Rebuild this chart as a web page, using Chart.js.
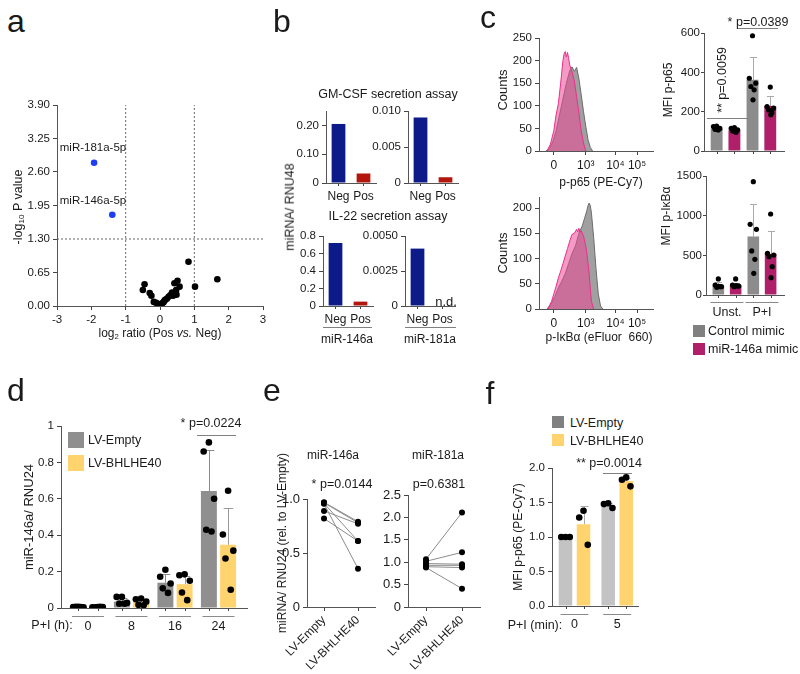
<!DOCTYPE html>
<html>
<head>
<meta charset="utf-8">
<title>Figure</title>
<script src="https://cdn.jsdelivr.net/npm/chart.js@4.4.1/dist/chart.umd.min.js"></script>
<style>
  body { margin:0; width:800px; height:674px; position:relative; background:#fff; overflow:hidden;
         font-family:'Liberation Sans', Arial, Helvetica, sans-serif; color:#1a1a1a; }
  canvas { position:absolute; }
  .t { position:absolute; white-space:nowrap; line-height:1; }
  .ln { position:absolute; height:0; border-top:1px solid #808080; }
  .sq { position:absolute; }
  sub { font-size:65%; vertical-align:-2px; line-height:0; }
</style>
</head>
<body>
<script>
// ---------- data ----------
// a: volcano
const volX = [0.83, 1.67, 1.02, -0.45, -0.50, -0.30, -0.25, -0.18, -0.11, -0.01, 0.06, 0.13, 0.20, 0.25,
              0.30, 0.35, 0.44, 0.47, 0.42, 0.51, 0.57, 0.02, -0.05, 0.10, 0.38, 0.48, 0.15];
const volY = [0.86, 0.52, 0.375, 0.42, 0.31, 0.25, 0.20, 0.08, 0.06, 0.02, 0.05, 0.10, 0.14, 0.18,
              0.21, 0.26, 0.25, 0.31, 0.44, 0.49, 0.375, 0.01, 0.04, 0.07, 0.20, 0.22, 0.12];
const hitX = [-1.92, -1.39];
const hitY = [2.78, 1.77];
const hitNames = ['miR-181a-5p', 'miR-146a-5p'];
const volYTicks = [0, 0.65, 1.30, 1.95, 2.60, 3.25, 3.90];
const foldCut = [-1, 1];
const pCut = 1.30;

// b: secretion assays
const negPos = ['Neg', 'Pos'];
const gmcsf146 = [0.205, 0.033];
const gmcsf181 = [0.0091, 0.0008];
const il22_146 = [0.72, 0.05];
const il22_181 = [0.0041, null]; // n.d.

// c: histograms (x in axis units 0-100)
const facsTicks = [13, 41, 67, 86];
const facsLabels = ['0', '10³', '10⁴', '10⁵'];
const p65CtrlX = [6, 9, 12, 15, 18, 21, 24, 27, 29, 31, 33, 35, 37, 39, 41, 43, 45, 47];
const p65CtrlN = [0, 5, 20, 45, 80, 115, 150, 178, 186, 176, 185, 160, 125, 88, 55, 25, 8, 0];
const p65MimX = [7, 10, 13, 15, 17, 19, 21, 22, 23, 24, 25, 26, 27, 29, 31, 33, 35, 37, 39, 41];
const p65MimN = [0, 15, 45, 80, 105, 150, 200, 215, 220, 208, 218, 205, 190, 175, 155, 120, 85, 45, 18, 0];
const ikbCtrlX = [7, 11, 14, 17, 20, 23, 26, 29, 32, 35, 38, 40, 42, 43, 44, 45, 46, 48, 50, 52, 54, 56];
const ikbCtrlN = [0, 12, 25, 42, 55, 70, 90, 110, 125, 150, 165, 180, 195, 205, 210, 205, 190, 140, 80, 30, 6, 0];
const ikbMimX = [8, 11, 13, 15, 17, 19, 21, 23, 25, 27, 29, 31, 33, 34, 35, 36, 37, 39, 41, 42, 44, 45, 46, 48];
const ikbMimN = [0, 15, 30, 45, 62, 75, 90, 105, 120, 135, 148, 150, 158, 153, 160, 152, 155, 145, 125, 110, 70, 40, 15, 0];

// c: MFI bars
const stim = ['Unst.', 'P+I'];
const p65Ctrl = [113, 362], p65CtrlSd = [8, 114];
const p65Mimic = [105, 229], p65MimicSd = [7, 53];
const p65CtrlPts = [[127, 124, 115, 110, 107, 110], [586, 370, 345, 328, 311, 260]];
const p65MimicPts = [[119, 115, 107, 102, 95, 99], [325, 226, 218, 209, 195, 184]];
const ikbCtrl = [118, 738], ikbCtrlSd = [50, 410];
const ikbMimic = [120, 518], ikbMimicSd = [30, 289];
const ikbCtrlPts = [[202, 126, 105, 97, 105, 110], [1429, 891, 828, 555, 450, 273]];
const ikbMimicPts = [[202, 126, 113, 105, 113, 120], [1021, 525, 504, 483, 357, 218]];

// d: miR-146a time course
const dHours = ['0', '8', '16', '24'];
const dEmpty = [0.005, 0.035, 0.139, 0.643], dEmptySd = [0.002, 0.018, 0.05, 0.227];
const dBhl = [0.004, 0.035, 0.131, 0.347], dBhlSd = [0.002, 0.016, 0.045, 0.20];
const dEmptyPts = [[0.006, 0.005, 0.004, 0.006, 0.005], [0.061, 0.061, 0.028, 0.024, 0.024],
                   [0.21, 0.172, 0.135, 0.108, 0.083], [0.91, 0.86, 0.60, 0.43, 0.42]];
const dBhlPts = [[0.005, 0.004, 0.005, 0.004, 0.006], [0.052, 0.048, 0.035, 0.017, 0.015],
                 [0.185, 0.18, 0.15, 0.085, 0.043], [0.644, 0.404, 0.315, 0.272, 0.10]];

// e: paired
const eLabels = ['LV-Empty', 'LV-BHLHE40'];
const e146Empty = [0.97, 0.965, 0.96, 0.955, 0.89, 0.82];
const e146Bhl = [0.79, 0.78, 0.61, 0.355, 0.77, 0.61];
const e181Empty = [1.067, 1.02, 0.97, 0.93, 0.90, 0.88];
const e181Bhl = [2.11, 1.22, 0.955, 0.93, 0.88, 0.41];

// f: MFI p-p65
const fMin = ['0', '5'];
const fEmpty = [1.0, 1.463], fEmptySd = [0.005, 0.03];
const fBhl = [1.183, 1.81], fBhlSd = [0.26, 0.05];
const fEmptyPts = [[1.0, 1.0, 1.0], [1.49, 1.477, 1.42]];
const fBhlPts = [[1.38, 1.283, 0.886], [1.864, 1.83, 1.734]];

// ---------- helpers ----------
Chart.defaults.font.family = "'Liberation Sans', Arial, Helvetica, sans-serif";
Chart.defaults.font.size = 11.5;
Chart.defaults.color = '#1a1a1a';

const PT = 12, PR = 12;
const GREY = '#8f8f8f', YEL = '#ffd36e', PINK = '#b0206a';

function mk(box, yw, xh, cfg, plugins) {
  const [x0, y0, x1, y1] = box;
  const cv = document.createElement('canvas');
  cv.width = Math.round(x1 - x0 + yw + PR);
  cv.height = Math.round(y1 - y0 + PT + xh);
  cv.style.left = (x0 - yw) + 'px';
  cv.style.top = (y0 - PT) + 'px';
  document.body.appendChild(cv);
  const o = cfg.options;
  o.responsive = false;
  o.animation = false;
  o.devicePixelRatio = 1;
  o.layout = {padding: {top: PT, right: PR, left: 0, bottom: 0}};
  o.plugins = Object.assign({legend: {display: false}, tooltip: {enabled: false}}, o.plugins || {});
  o.scales.x.afterFit = s => { s.height = xh; };
  o.scales.y.afterFit = s => { s.width = yw; };
  cfg.plugins = plugins || [];
  return new Chart(cv, cfg);
}

function ax(extra) {
  const s = {
    grid: {display: true, drawOnChartArea: false, drawTicks: true, tickLength: 4, color: '#444', lineWidth: 1},
    border: {display: true, color: '#555', width: 1},
    ticks: {color: '#1a1a1a', padding: 3}
  };
  for (const k in extra) {
    const v = extra[k];
    if (s[k] && v && typeof v === 'object' && !Array.isArray(v)) Object.assign(s[k], v);
    else s[k] = v;
  }
  return s;
}
function fixTicks(arr) { return s => { s.ticks = arr.map(v => ({value: v})); }; }

function txt(html, x, y, o = {}) {
  const d = document.createElement('div');
  d.className = 't';
  d.innerHTML = html;
  d.style.left = x + 'px';
  d.style.top = y + 'px';
  d.style.fontSize = (o.size || 12.5) + 'px';
  if (o.left) d.style.transform = 'translate(0,-50%)';
  else d.style.transform = 'translate(-50%,-50%)' + (o.rot ? ' rotate(-90deg)' : '');
  document.body.appendChild(d);
}
function letter(ch, cx, base) { txt(ch, cx, base - 11, {size: 32}); }
function hline(x0, x1, y, c) {
  const d = document.createElement('div');
  d.className = 'ln';
  d.style.left = x0 + 'px'; d.style.top = y + 'px'; d.style.width = (x1 - x0) + 'px';
  if (c) d.style.borderTopColor = c;
  document.body.appendChild(d);
}
function sq(x, y, s, c) {
  const d = document.createElement('div');
  d.className = 'sq';
  d.style.left = x + 'px'; d.style.top = y + 'px'; d.style.width = s + 'px'; d.style.height = s + 'px';
  d.style.background = c;
  document.body.appendChild(d);
}

// error bars (upward only), drawn under the bars/dots
function errBars(list) {
  return {id: 'errbars', beforeDatasetsDraw(chart) {
    const ctx = chart.ctx, ys = chart.scales.y;
    ctx.save();
    ctx.lineWidth = 1;
    list.forEach(e => {
      const meta = chart.getDatasetMeta(e.ds);
      meta.data.forEach((el, i) => {
        const v = chart.data.datasets[e.ds].data[i].y;
        if (v == null || e.sd[i] == null) return;
        const top = ys.getPixelForValue(v + e.sd[i]);
        const x = Math.round(el.x) + 0.5, t = Math.round(top) + 0.5;
        ctx.strokeStyle = e.color;
        ctx.beginPath();
        ctx.moveTo(x, el.y); ctx.lineTo(x, t);
        ctx.moveTo(x - el.width * 0.3, t); ctx.lineTo(x + el.width * 0.3, t);
        ctx.stroke();
      });
    });
    ctx.restore();
  }};
}
// small ticks under each bar centre
const barTicks = {id: 'barticks', afterDraw(chart) {
  const ctx = chart.ctx, b = chart.chartArea.bottom;
  ctx.save();
  ctx.strokeStyle = '#444';
  ctx.lineWidth = 1;
  chart.data.datasets.forEach((d, k) => {
    if (d.type !== 'bar') return;
    chart.getDatasetMeta(k).data.forEach(el => {
      const x = Math.round(el.x) + 0.5;
      ctx.beginPath(); ctx.moveTo(x, b); ctx.lineTo(x, b + 3); ctx.stroke();
    });
  });
  ctx.restore();
}};
// grey line under each group
function groupLines(n, half, dy) {
  return {id: 'grouplines', afterDraw(chart) {
    if (!half) return;
    const ctx = chart.ctx, xs = chart.scales.x, y = Math.round(chart.chartArea.bottom + dy) + 0.5;
    ctx.save();
    ctx.strokeStyle = '#8a8a8a';
    ctx.lineWidth = 1;
    for (let i = 0; i < n; i++) {
      const c = xs.getPixelForValue(i);
      ctx.beginPath(); ctx.moveTo(c - half, y); ctx.lineTo(c + half, y); ctx.stroke();
    }
    ctx.restore();
  }};
}

const jit = [0, -1, 1, -0.5, 0.5, 0.15];
function dotData(groups, side, off, spread) {
  const out = [];
  groups.forEach((vals, i) => vals.forEach((v, j) => out.push({x: i + side * off + jit[j % jit.length] * spread, y: v})));
  return out;
}

function barChart(box, yw, xh, o) {
  const ds = [], errs = [];
  o.series.forEach((s, k) => {
    ds.push({type: 'bar', data: s.vals.map((v, i) => ({x: i, y: v})), backgroundColor: s.color, borderWidth: 0,
      categoryPercentage: o.cp, barPercentage: o.bp, order: 2});
    errs.push({ds: k, sd: s.sd, color: s.err || '#999'});
  });
  o.series.forEach((s, k) => {
    ds.push({type: 'scatter', data: dotData(s.pts, k ? 1 : -1, o.cp / 4, o.spread), pointRadius: o.r,
      pointBackgroundColor: '#000', pointBorderWidth: 0, order: 0});
  });
  return mk(box, yw, xh, {type: 'bar', data: {datasets: ds}, options: {scales: {
    x: ax({type: 'linear', min: o.xmin, max: o.xmax, offset: false, grid: {offset: false, drawTicks: false},
      afterBuildTicks: fixTicks(o.groups.map((_, i) => i)),
      ticks: {display: o.showLabels, padding: o.lpad || 11, font: {size: 12.5}, callback: (v, i) => o.groups[i]}}),
    y: ax({min: 0, max: o.ymax, afterBuildTicks: fixTicks(o.yticks), grid: {tickLength: o.tl || 4},
      ticks: {padding: o.ypad == null ? 3 : o.ypad, callback: o.yfmt || (v => String(v))}})
  }}}, [errBars(errs), barTicks, groupLines(o.groups.length, o.half, o.dy)]);
}

// ---------- a ----------
const dash = {showLine: true, pointRadius: 0, borderColor: '#666', borderWidth: 1, borderDash: [2, 2]};
mk([57, 105, 263, 306], 40, 22, {type: 'scatter', data: {datasets: [
  {data: volX.map((x, i) => ({x, y: volY[i]})), pointRadius: 3.3, pointBackgroundColor: '#000', pointBorderWidth: 0},
  {data: hitX.map((x, i) => ({x, y: hitY[i]})), pointRadius: 3.3, pointBackgroundColor: '#1f3df5', pointBorderWidth: 0},
  Object.assign({data: [{x: foldCut[0], y: 0}, {x: foldCut[0], y: 3.9}]}, dash),
  Object.assign({data: [{x: foldCut[1], y: 0}, {x: foldCut[1], y: 3.9}]}, dash),
  Object.assign({data: [{x: -3, y: pCut}, {x: 3, y: pCut}]}, dash)
]}, options: {scales: {
  x: ax({type: 'linear', min: -3, max: 3, ticks: {stepSize: 1}}),
  y: ax({min: 0, max: 3.9, afterBuildTicks: fixTicks(volYTicks), ticks: {callback: v => v.toFixed(2)}})
}}});
txt('-log<sub>10</sub> P value', 18, 207, {rot: true});
txt('log<sub>2</sub> ratio (Pos <i>vs.</i> Neg)', 160, 333, {size: 12});
txt(hitNames[0], 93, 148, {size: 11.5});
txt(hitNames[1], 93, 201, {size: 11.5});

// ---------- b ----------
function small(box, vals, max, ticks, dec) {
  return mk(box, 44, 26, {type: 'bar', data: {labels: negPos, datasets: [{data: vals,
    backgroundColor: ['#0c1a8a', '#b3160c'], barPercentage: 0.55, categoryPercentage: 1}]},
    options: {scales: {
      x: ax({grid: {offset: false, tickLength: 3}, ticks: {font: {size: 12}, padding: 3, minRotation: 0, maxRotation: 0, autoSkip: false}}),
      y: ax({min: 0, max, afterBuildTicks: fixTicks(ticks), ticks: {callback: v => v === 0 ? '0' : v.toFixed(dec)}})
    }}});
}
small([326, 111, 376, 183], gmcsf146, 0.25, [0, 0.05, 0.10, 0.15, 0.20, 0.25], 2);
small([408, 111, 458, 183], gmcsf181, 0.010, [0, 0.005, 0.010], 3);
small([323, 236, 373, 306], il22_146, 0.8, [0, 0.2, 0.4, 0.6, 0.8], 1);
small([405, 236, 455, 306], il22_181, 0.005, [0, 0.0025, 0.005], 4);
txt('GM-CSF secretion assay', 388, 94);
txt('IL-22 secretion assay', 388, 216);
txt('miRNA/ RNU48', 290, 207, {rot: true, size: 12.5});
txt('n.d.', 446, 301, {size: 13});
hline(323, 372, 327); hline(405, 456, 327);
txt('miR-146a', 347, 339, {size: 12});
txt('miR-181a', 430, 339, {size: 12});

// ---------- c: histograms ----------
function hist(box, ymax, yticks, cx, cn, mx, mn) {
  return mk(box, 40, 24, {type: 'line', data: {datasets: [
    {data: mx.map((x, i) => ({x, y: mn[i]})), borderColor: '#e8308a', backgroundColor: 'rgba(236,70,150,0.55)', fill: 'origin', order: 0},
    {data: cx.map((x, i) => ({x, y: cn[i]})), borderColor: '#6b6b6b', backgroundColor: 'rgba(150,150,150,0.9)', fill: 'origin', order: 1}
  ]}, options: {
    elements: {point: {radius: 0}, line: {borderWidth: 1, tension: 0}},
    scales: {
      x: ax({type: 'linear', min: 0, max: 100, afterBuildTicks: fixTicks(facsTicks), ticks: {callback: (v, i) => facsLabels[i], font: {size: 12}}}),
      y: ax({min: 0, max: ymax, afterBuildTicks: fixTicks(yticks)})
    }}});
}
hist([539, 38, 653, 151], 250, [0, 50, 100, 150, 200, 250], p65CtrlX, p65CtrlN, p65MimX, p65MimN);
hist([539, 197, 653, 309], 222, [0, 50, 100, 150, 200], ikbCtrlX, ikbCtrlN, ikbMimX, ikbMimN);
txt('Counts', 502, 90, {rot: true, size: 13});
txt('Counts', 502, 253, {rot: true, size: 13});
txt('p-p65 (PE-Cy7)', 601, 182, {size: 12});
txt('p-IκBα (eFluor&nbsp; 660)', 599, 337, {size: 12});

// ---------- c: MFI bars ----------
const cCommon = {groups: stim, xmin: -0.6, xmax: 1.63, cp: 0.99, bp: 0.67, r: 2.6, spread: 0.09, tl: 3, ypad: 1};
barChart([704, 33, 784, 151], 36, 10, Object.assign({}, cCommon, {
  series: [{vals: p65Ctrl, sd: p65CtrlSd, pts: p65CtrlPts, color: '#8c8c8c', err: '#aaa'},
           {vals: p65Mimic, sd: p65MimicSd, pts: p65MimicPts, color: PINK, err: '#aaa'}],
  ymax: 600, yticks: [0, 200, 400, 600], showLabels: false, half: 0, dy: 0}));
barChart([706, 176, 784, 295], 38, 26, Object.assign({}, cCommon, {
  series: [{vals: ikbCtrl, sd: ikbCtrlSd, pts: ikbCtrlPts, color: '#8c8c8c', err: '#aaa'},
           {vals: ikbMimic, sd: ikbMimicSd, pts: ikbMimicPts, color: PINK, err: '#aaa'}],
  ymax: 1500, yticks: [0, 500, 1000, 1500], showLabels: true, lpad: 10, half: 16.5, dy: 7}));
txt('MFI p-p65', 668, 90, {rot: true, size: 12});
txt('MFI p-IκBα', 666, 216, {rot: true, size: 12});
txt('* p=0.0389', 758, 22, {size: 12.5});
hline(738, 778, 28);
txt('** p=0.0059', 722, 80, {rot: true, size: 12.5});
hline(707, 749, 118);
sq(693, 325, 12, '#808080');
txt('Control mimic', 708, 331, {left: true, size: 12.5});
sq(693, 343, 12, PINK);
txt('miR-146a mimic', 708, 349, {left: true, size: 12.5});

// ---------- d ----------
barChart([61, 426, 247, 608], 30, 28, {groups: dHours, xmin: -0.62, xmax: 3.655, cp: 0.883, bp: 0.83, r: 3.3, spread: 0.12,
  series: [{vals: dEmpty, sd: dEmptySd, pts: dEmptyPts, color: GREY, err: '#8a8a8a'},
           {vals: dBhl, sd: dBhlSd, pts: dBhlPts, color: YEL, err: '#999'}],
  ymax: 1, yticks: [0, 0.2, 0.4, 0.6, 0.8, 1], showLabels: true, half: 16, dy: 8});
sq(68, 432, 16, GREY);
txt('LV-Empty', 88, 440, {left: true, size: 12.5});
sq(68, 455, 16, YEL);
txt('LV-BHLHE40', 88, 463, {left: true, size: 12.5});
txt('* p=0.0224', 211, 423, {size: 12.5});
hline(197, 236, 435);
txt('miR-146a/ RNU24', 28, 517, {rot: true, size: 13});
txt('P+I (h):', 52, 625, {size: 12.5});

// ---------- e ----------
function pairs(box, left, right, max, ticks) {
  return mk(box, 44, 66, {type: 'line', data: {labels: eLabels, datasets: left.map((l, k) => ({
    data: [l, right[k]], borderColor: '#8c8c8c', borderWidth: 1, pointRadius: 3,
    pointBackgroundColor: '#000', pointBorderWidth: 0}))},
    options: {scales: {
      x: ax({offset: true, grid: {offset: false}, ticks: {minRotation: 45, maxRotation: 45, font: {size: 12}, padding: 2}}),
      y: ax({min: 0, max, afterBuildTicks: fixTicks(ticks), ticks: {font: {size: 13}}})
    }}});
}
pairs([307, 499, 375, 607], e146Empty, e146Bhl, 1, [0, 0.5, 1]);
pairs([408, 495, 480, 607], e181Empty, e181Bhl, 2.5, [0, 0.5, 1, 1.5, 2, 2.5]);
txt('miRNA/ RNU24 (rel. to LV-Empty)', 282, 543, {rot: true, size: 12});
txt('miR-146a', 333, 455, {size: 12});
txt('* p=0.0144', 342, 484, {size: 12.5});
txt('miR-181a', 438, 455, {size: 12});
txt('p=0.6381', 439, 484, {size: 12.5});

// ---------- f ----------
barChart([552, 468, 638, 606], 32, 28, {groups: fMin, xmin: -0.527, xmax: 1.487, cp: 0.843, bp: 0.75, r: 3.3, spread: 0.1,
  series: [{vals: fEmpty, sd: fEmptySd, pts: fEmptyPts, color: '#c3c3c3', err: '#aaa'},
           {vals: fBhl, sd: fBhlSd, pts: fBhlPts, color: YEL, err: '#aaa'}],
  ymax: 2, yticks: [0, 0.5, 1, 1.5, 2], yfmt: v => v.toFixed(1), showLabels: true, half: 14, dy: 8});
sq(552, 416, 12, '#808080');
txt('LV-Empty', 570, 423, {left: true, size: 12.5});
sq(552, 434, 12, YEL);
txt('LV-BHLHE40', 570, 441, {left: true, size: 12.5});
txt('** p=0.0014', 609, 463, {size: 12.5});
hline(603, 632, 473);
txt('MFI p-p65 (PE-Cy7)', 518, 537, {rot: true, size: 12});
txt('P+I (min):', 535, 625, {size: 12.5});

// ---------- panel letters ----------
letter('a', 16, 32);
letter('b', 282, 32);
letter('c', 488, 28);
letter('d', 16, 401);
letter('e', 272, 401);
letter('f', 490, 404);
</script>
</body>
</html>
